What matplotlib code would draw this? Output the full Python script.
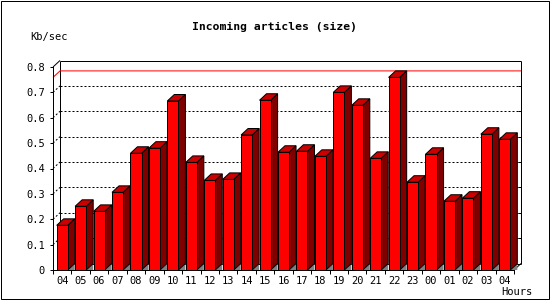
import numpy as np
import matplotlib
matplotlib.use('Agg')
import matplotlib.pyplot as plt
from matplotlib.patches import Polygon, Rectangle

# data
hours = ['04', '05', '06', '07', '08', '09', '10', '11', '12', '13', '14', '15', '16',
         '17', '18', '19', '20', '21', '22', '23', '00', '01', '02', '03', '04']
kb_sec = [0.176, 0.251, 0.231, 0.306, 0.460, 0.480, 0.666, 0.424, 0.353, 0.357, 0.532,
          0.669, 0.464, 0.468, 0.448, 0.700, 0.649, 0.440, 0.759, 0.346, 0.456, 0.271,
          0.283, 0.535, 0.515]
y_ticks = [0, 0.1, 0.2, 0.3, 0.4, 0.5, 0.6, 0.7, 0.8]
y_labels = ['0', '0.1', '0.2', '0.3', '0.4', '0.5', '0.6', '0.7', '0.8']

W, H = 550, 300
PX = 0.72  # one pixel in points at dpi 100
MONO = 'DejaVu Sans Mono'

fig = plt.figure(figsize=(W / 100, H / 100), dpi=100)
fig.patch.set_facecolor('white')

# front plane of the plot (pixel box 53..514 x 67..270)
ax = fig.add_axes([53 / W, 1 - 270 / H, (514 - 53) / W, (270 - 67) / H])
n = len(hours)
top = y_ticks[-1]
ax.set_xlim(0, n)
ax.set_ylim(0, top)
ax.patch.set_visible(False)

# 3d depth, converted from pixels into data units
px_x = (514 - 53) / n
px_y = (270 - 67) / top
dx = 7 / px_x
dy = 6.5 / px_y


def seg(xs, ys, **kw):
    kw.setdefault('color', 'black')
    kw.setdefault('lw', PX)
    ax.plot(xs, ys, clip_on=False, solid_capstyle='butt', **kw)


# back plane frame
seg([dx, n + dx], [top + dy, top + dy], zorder=1)
seg([dx, dx], [dy, top + dy], zorder=1)
seg([n + dx, n + dx], [dy, top + dy], zorder=1)
seg([dx, n + dx], [dy, dy], zorder=1)
seg([0, dx], [top, top + dy], zorder=1)
seg([n, n + dx], [0, dy], zorder=1)

# dotted grid on the back plane + ticks on the right edge
for v in y_ticks[1:-1]:
    seg([dx, n + dx], [v + dy, v + dy], ls=(0, (2, 2)), zorder=1)
    seg([0, dx], [v, v + dy], ls=(0, (2, 2)), zorder=1)
    seg([n + dx - 3 / px_x, n + dx], [v + dy, v + dy], zorder=1)

# red line at the maximum
peak = max(kb_sec)
seg([0, dx, n + dx], [peak, peak + dy, peak + dy], color='#ff0000', zorder=1.5)

# 3d bars
for i, v in enumerate(kb_sec):
    x0, x1 = i + 0.2, i + 0.8
    ax.add_patch(Polygon([(x1, 0), (x1 + dx, dy), (x1 + dx, 0)], closed=True,
                         fc='#808080', ec='none', clip_on=False, zorder=2))
    ax.add_patch(Polygon([(x1, 0), (x1 + dx, dy), (x1 + dx, v + dy), (x1, v)], closed=True,
                         fc='#800000', ec='black', lw=PX, clip_on=False, zorder=3))
    ax.add_patch(Polygon([(x0, v), (x1, v), (x1 + dx, v + dy), (x0 + dx, v + dy)], closed=True,
                         fc='#cc0000', ec='black', lw=PX, clip_on=False, zorder=3))
    ax.add_patch(Polygon([(x0, 0), (x1, 0), (x1, v), (x0, v)], closed=True,
                         fc='#ff0000', ec='black', lw=PX, clip_on=False, zorder=3))

# front axes
for s in ['top', 'right']:
    ax.spines[s].set_visible(False)
for s in ['left', 'bottom']:
    ax.spines[s].set_linewidth(PX)
    ax.spines[s].set_zorder(5)

ax.set_yticks(y_ticks)
ax.set_yticklabels(y_labels, family=MONO, fontsize=7.5)
ax.tick_params(axis='y', direction='out', length=3 * PX, width=PX, pad=3.6)

ax.set_xticks(np.arange(n + 1))
ax.set_xticklabels([])
ax.set_xticks(np.arange(n) + 0.5, minor=True)
ax.set_xticklabels(hours, minor=True, family=MONO, fontsize=7.5)
ax.tick_params(axis='x', which='major', direction='out', length=4 * PX, width=PX)
ax.tick_params(axis='x', which='minor', length=0, pad=4.3)

# texts
fig.text(275 / W, 1 - 27 / H, 'Incoming articles (size)', ha='center', va='center',
         family=MONO, fontweight='bold', fontsize=8.2)
fig.text(30 / W, 1 - 37 / H, 'Kb/sec', ha='left', va='center', family=MONO, fontsize=7.5)
fig.text(533 / W, 1 - 292 / H, 'Hours', ha='right', va='center', family=MONO, fontsize=7.5)

# outer border
fig.add_artist(Rectangle((0.5 / W, 1 - 298.5 / H), 548 / W, 298 / H, transform=fig.transFigure,
                         fill=False, ec='black', lw=PX))

fig.savefig('out.png', dpi=100)
